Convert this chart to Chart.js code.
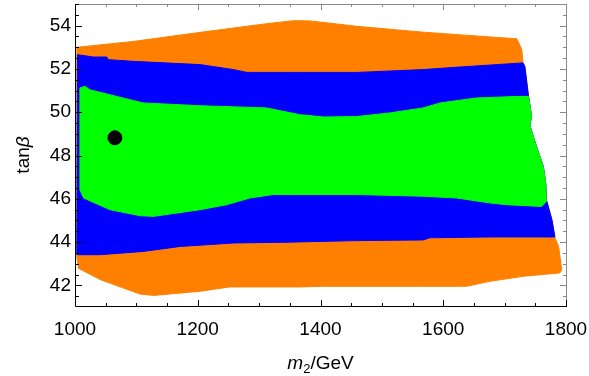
<!DOCTYPE html>
<html>
<head>
<meta charset="utf-8">
<script src="https://cdn.jsdelivr.net/npm/chart.js@4.4.1/dist/chart.umd.min.js"></script>
<style>
  html, body { margin: 0; padding: 0; background: #fff; }
  #wrap { width: 589px; height: 376px; }
</style>
</head>
<body>
<div id="wrap"><canvas id="chart"></canvas></div>
<script>
// tick labels
const xTicks = [1000, 1200, 1400, 1600, 1800];
const yTicks = [42, 44, 46, 48, 50, 52, 54];

// orange region (outer boundary of all allowed points)
const orangeX = [1002, 1003, 1095, 1204, 1312, 1356, 1383, 1459, 1567, 1676, 1720, 1728, 1730, 1733, 1739, 1744, 1741, 1752, 1763, 1767, 1768, 1777, 1782, 1788, 1793, 1790, 1730, 1676, 1638, 1622, 1567, 1405, 1366, 1252, 1204, 1128, 1106, 1041, 1005];
const orangeY = [43.35, 53.0, 53.27, 53.69, 54.09, 54.23, 54.22, 53.97, 53.7, 53.48, 53.39, 52.9, 52.28, 52.1, 50.73, 49.8, 49.4, 48.4, 47.5, 46.7, 45.96, 45.04, 44.2, 43.8, 42.73, 42.58, 42.42, 42.19, 41.96, 41.96, 41.96, 41.96, 41.93, 41.93, 41.73, 41.54, 41.6, 42.27, 42.8];

// blue region
const blueX = [1003, 1004, 1030, 1052, 1054, 1095, 1204, 1258, 1280, 1356, 1459, 1567, 1622, 1730, 1733, 1739, 1744, 1741, 1752, 1763, 1767, 1768, 1777, 1782, 1676, 1578, 1567, 1459, 1350, 1258, 1171, 1111, 1041, 1004];
const blueY = [43.42, 52.66, 52.55, 52.55, 52.43, 52.35, 52.2, 51.97, 51.84, 51.84, 51.84, 51.97, 52.08, 52.28, 52.1, 50.73, 49.8, 49.4, 48.4, 47.5, 46.7, 45.96, 45.04, 44.24, 44.24, 44.2, 44.1, 44.07, 44.0, 43.96, 43.8, 43.57, 43.42, 43.42];

// green region
const greenX = [1008, 1008, 1016, 1024, 1068, 1111, 1204, 1312, 1366, 1405, 1459, 1513, 1567, 1595, 1654, 1720, 1739, 1744, 1741, 1752, 1763, 1767, 1768, 1760, 1703, 1676, 1622, 1567, 1459, 1350, 1323, 1285, 1247, 1204, 1128, 1106, 1057, 1014, 1008];
const greenY = [46.42, 51.12, 51.2, 51.04, 50.73, 50.43, 50.3, 50.2, 49.89, 49.78, 49.8, 49.97, 50.2, 50.43, 50.66, 50.73, 50.73, 49.8, 49.4, 48.4, 47.5, 46.7, 45.88, 45.65, 45.73, 45.81, 46.04, 46.12, 46.2, 46.2, 46.2, 46.04, 45.73, 45.5, 45.19, 45.22, 45.5, 46.04, 46.42];

// benchmark point
const pointX = [1065];
const pointY = [48.82];

const FONT = "'Liberation Sans', Arial, sans-serif";

function toPoints(xs, ys) {
    return xs.map((x, i) => ({ x: x, y: ys[i] }));
}

function region(xs, ys, color) {
    return {
        data: toPoints(xs, ys),
        showLine: true,
        fill: 'shape',
        backgroundColor: color,
        borderColor: color,
        borderWidth: 1,
        borderJoinStyle: 'round',
        pointRadius: 0,
        tension: 0
    };
}

// write a run of text pieces (font, text, baseline shift) centred on x = 0
function drawPieces(ctx, parts) {
    let total = 0;
    parts.forEach(p => { ctx.font = p.f; p.w = ctx.measureText(p.t).width; total += p.w; });
    let cx = -total / 2;
    parts.forEach(p => {
        ctx.font = p.f;
        ctx.fillText(p.t, cx, p.dy);
        cx += p.w;
    });
}

// frame with inward ticks on all four sides, plus axis titles
const framePlugin = {
    id: 'frame',
    afterDraw(chart) {
        const { ctx, chartArea: a, scales: { x, y } } = chart;
        ctx.save();
        ctx.lineWidth = 1;

        // top and right (gray)
        ctx.strokeStyle = '#8a8a8a';
        ctx.beginPath();
        ctx.moveTo(a.left, a.top + 0.5);
        ctx.lineTo(a.right + 0.5, a.top + 0.5);
        ctx.lineTo(a.right + 0.5, a.bottom);
        for (let v = 1000; v <= 1800; v += 50) {
            const px = Math.round(x.getPixelForValue(v)) + 0.5;
            const len = v % 200 === 0 ? 6 : 3;
            ctx.moveTo(px, a.top);
            ctx.lineTo(px, a.top + len);
        }
        for (let v = 41.5; v <= 55; v += 0.5) {
            const py = Math.round(y.getPixelForValue(v)) + 0.5;
            const len = v % 2 === 0 ? 6 : 3;
            ctx.moveTo(a.right, py);
            ctx.lineTo(a.right - len, py);
        }
        ctx.stroke();

        // bottom and left (black)
        ctx.strokeStyle = '#000';
        ctx.beginPath();
        ctx.moveTo(a.left + 0.5, a.top);
        ctx.lineTo(a.left + 0.5, a.bottom + 0.5);
        ctx.lineTo(a.right + 1, a.bottom + 0.5);
        for (let v = 1000; v <= 1800; v += 50) {
            const px = Math.round(x.getPixelForValue(v)) + 0.5;
            const len = v % 200 === 0 ? 6 : 3;
            ctx.moveTo(px, a.bottom);
            ctx.lineTo(px, a.bottom - len);
        }
        for (let v = 41.5; v <= 55; v += 0.5) {
            const py = Math.round(y.getPixelForValue(v)) + 0.5;
            const len = v % 2 === 0 ? 7 : 4;
            ctx.moveTo(a.left, py);
            ctx.lineTo(a.left + len, py);
        }
        ctx.stroke();

        ctx.fillStyle = '#000';
        ctx.textBaseline = 'alphabetic';
        ctx.textAlign = 'left';

        // x axis title: italic m, subscript 2, /GeV
        ctx.save();
        ctx.translate((a.left + a.right) / 2, 369);
        drawPieces(ctx, [
            { t: 'm', f: 'italic 19px ' + FONT, dy: 0 },
            { t: '2', f: '13px ' + FONT, dy: 4 },
            { t: '/GeV', f: '19px ' + FONT, dy: 0 }
        ]);
        ctx.restore();

        // y axis title: tan + italic beta, rotated
        ctx.save();
        ctx.translate(29, (a.top + a.bottom) / 2);
        ctx.rotate(-Math.PI / 2);
        drawPieces(ctx, [
            { t: 'tan', f: '19px ' + FONT, dy: 0 },
            { t: 'β', f: 'italic 19px ' + FONT, dy: 0 }
        ]);
        ctx.restore();

        ctx.restore();
    }
};

new Chart(document.getElementById('chart'), {
    type: 'scatter',
    data: {
        datasets: [
            {
                data: toPoints(pointX, pointY),
                backgroundColor: '#000',
                borderColor: '#000',
                pointRadius: 7,
                pointHoverRadius: 7
            },
            region(greenX, greenY, '#00ff00'),
            region(blueX, blueY, '#0000ff'),
            region(orangeX, orangeY, '#ff8000')
        ]
    },
    options: {
        responsive: true,
        maintainAspectRatio: false,
        animation: false,
        layout: { autoPadding: false, padding: { top: 4, right: 23, left: 0, bottom: 0 } },
        plugins: {
            legend: { display: false },
            tooltip: { enabled: false }
        },
        scales: {
            x: {
                type: 'linear',
                min: 1000,
                max: 1800,
                grid: { display: false, drawTicks: false },
                border: { display: false },
                afterBuildTicks: s => { s.ticks = xTicks.map(v => ({ value: v })); },
                afterFit: s => {
                    s.height = 70;
                    s.paddingLeft = 0;
                    s.paddingRight = 0;
                },
                ticks: {
                    padding: 12,
                    color: '#000',
                    maxRotation: 0,
                    callback: v => String(v),
                    font: { family: FONT, size: 19 }
                }
            },
            y: {
                type: 'linear',
                min: 41.05,
                max: 55,
                grid: { display: false, drawTicks: false },
                border: { display: false },
                afterBuildTicks: s => { s.ticks = yTicks.map(v => ({ value: v })); },
                afterFit: s => {
                    s.width = 75;
                    s.paddingTop = 0;
                    s.paddingBottom = 0;
                },
                ticks: {
                    padding: 4,
                    color: '#000',
                    callback: v => String(v),
                    font: { family: FONT, size: 19 }
                }
            }
        }
    },
    plugins: [framePlugin]
});
</script>
</body>
</html>
